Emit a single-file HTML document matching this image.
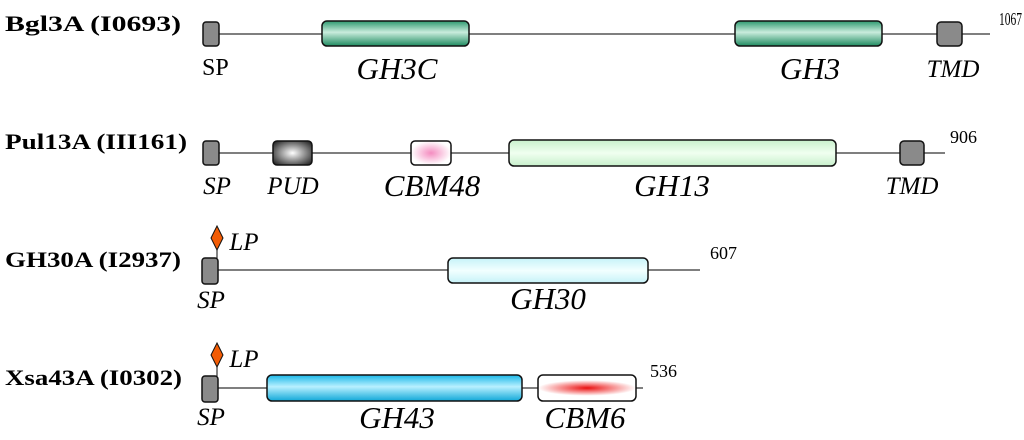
<!DOCTYPE html>
<html><head><style>body{margin:0;background:#fff}svg{display:block}</style></head><body>
<svg width="1024" height="440" xmlns="http://www.w3.org/2000/svg" font-family="Liberation Serif, serif">
<defs>
<linearGradient id="g3" x1="0" y1="0" x2="0" y2="1"><stop offset="0" stop-color="#2d9a70"/><stop offset="0.45" stop-color="#c9ecdc"/><stop offset="1" stop-color="#1e8a60"/></linearGradient>
<linearGradient id="g13" x1="0" y1="0" x2="0" y2="1"><stop offset="0" stop-color="#c8f0cc"/><stop offset="0.5" stop-color="#f0fff0"/><stop offset="1" stop-color="#c8f0cc"/></linearGradient>
<linearGradient id="g30" x1="0" y1="0" x2="0" y2="1"><stop offset="0" stop-color="#c6f2f8"/><stop offset="0.5" stop-color="#f2ffff"/><stop offset="1" stop-color="#c6f2f8"/></linearGradient>
<linearGradient id="g43" x1="0" y1="0" x2="0" y2="1"><stop offset="0" stop-color="#1ab8e8"/><stop offset="0.45" stop-color="#b8f0ff"/><stop offset="1" stop-color="#10a8d8"/></linearGradient>
<radialGradient id="gpud" cx="0.5" cy="0.5" r="0.6"><stop offset="0" stop-color="#fff"/><stop offset="1" stop-color="#333"/></radialGradient>
<radialGradient id="gcbm48" cx="0.5" cy="0.5" r="0.5"><stop offset="0" stop-color="#f48cc0"/><stop offset="1" stop-color="#fff"/></radialGradient>
<radialGradient id="gcbm6" cx="0.5" cy="0.5" r="0.5" gradientTransform="translate(0.5 0.5) scale(1 0.6) translate(-0.5 -0.5)"><stop offset="0" stop-color="#e81010"/><stop offset="0.4" stop-color="#f47070"/><stop offset="1" stop-color="#fff"/></radialGradient>
</defs>
<g stroke="#333" stroke-width="1.2">
<line x1="203" y1="34" x2="990" y2="34"/>
<line x1="203" y1="153" x2="945" y2="153"/>
<line x1="203" y1="270" x2="700" y2="270"/>
<line x1="203" y1="388" x2="643" y2="388"/>
<line x1="217" y1="250" x2="217" y2="258"/>
<line x1="217" y1="367" x2="217" y2="376"/>
</g>
<g stroke="#111" stroke-width="1.5">
<rect x="203" y="22" width="16" height="24" rx="3" fill="#8a8a8a"/>
<rect x="322" y="21" width="147" height="25" rx="5" fill="url(#g3)"/>
<rect x="735" y="21" width="147" height="25" rx="5" fill="url(#g3)"/>
<rect x="937" y="22" width="25" height="24" rx="4" fill="#8a8a8a"/>

<rect x="203" y="141" width="16" height="24" rx="3" fill="#8a8a8a"/>
<rect x="273" y="141" width="39" height="24" rx="4" fill="url(#gpud)"/>
<rect x="411" y="141" width="40" height="24" rx="4" fill="url(#gcbm48)"/>
<rect x="509" y="140" width="327" height="26" rx="5" fill="url(#g13)"/>
<rect x="900" y="141" width="24" height="24" rx="4" fill="#8a8a8a"/>

<rect x="202" y="258" width="16" height="26" rx="3" fill="#8a8a8a"/>
<rect x="448" y="258" width="200" height="25" rx="5" fill="url(#g30)"/>
<polygon points="217,226 223,238 217,250 211,238" fill="#f25c05" stroke-width="1"/>

<rect x="202" y="376" width="16" height="26" rx="3" fill="#8a8a8a"/>
<rect x="267" y="375" width="255" height="26" rx="5" fill="url(#g43)"/>
<rect x="538" y="375" width="98" height="26" rx="5" fill="url(#gcbm6)"/>
<polygon points="217,343 223,355 217,367 211,355" fill="#f25c05" stroke-width="1"/>
</g>
<g font-size="22" font-weight="bold" fill="#000">
<text x="5" y="31" textLength="176" lengthAdjust="spacingAndGlyphs">Bgl3A (I0693)</text>
<text x="5" y="149" textLength="182" lengthAdjust="spacingAndGlyphs">Pul13A (III161)</text>
<text x="5" y="267" textLength="176" lengthAdjust="spacingAndGlyphs">GH30A (I2937)</text>
<text x="5" y="385" textLength="177" lengthAdjust="spacingAndGlyphs">Xsa43A (I0302)</text>
</g>
<g font-size="18" fill="#000">
<text x="999" y="25" textLength="23" lengthAdjust="spacingAndGlyphs">1067</text>
<text x="950" y="143">906</text>
<text x="710" y="259">607</text>
<text x="650" y="377">536</text>
<text x="202" y="75" font-size="24">SP</text>
</g>
<g font-size="31" font-style="italic" fill="#000" text-anchor="middle">
<text x="397" y="79">GH3C</text>
<text x="810" y="79">GH3</text>
<text x="953" y="77" font-size="25">TMD</text>
<text x="217" y="194" font-size="25">SP</text>
<text x="293" y="194" font-size="25">PUD</text>
<text x="432" y="196">CBM48</text>
<text x="672" y="196">GH13</text>
<text x="912" y="194" font-size="25">TMD</text>
<text x="211" y="308" font-size="25">SP</text>
<text x="548" y="309">GH30</text>
<text x="211" y="425" font-size="25">SP</text>
<text x="397" y="428">GH43</text>
<text x="585" y="428">CBM6</text>
<text x="244" y="250" font-size="25">LP</text>
<text x="244" y="367" font-size="25">LP</text>
</g>
</svg>
</body></html>
